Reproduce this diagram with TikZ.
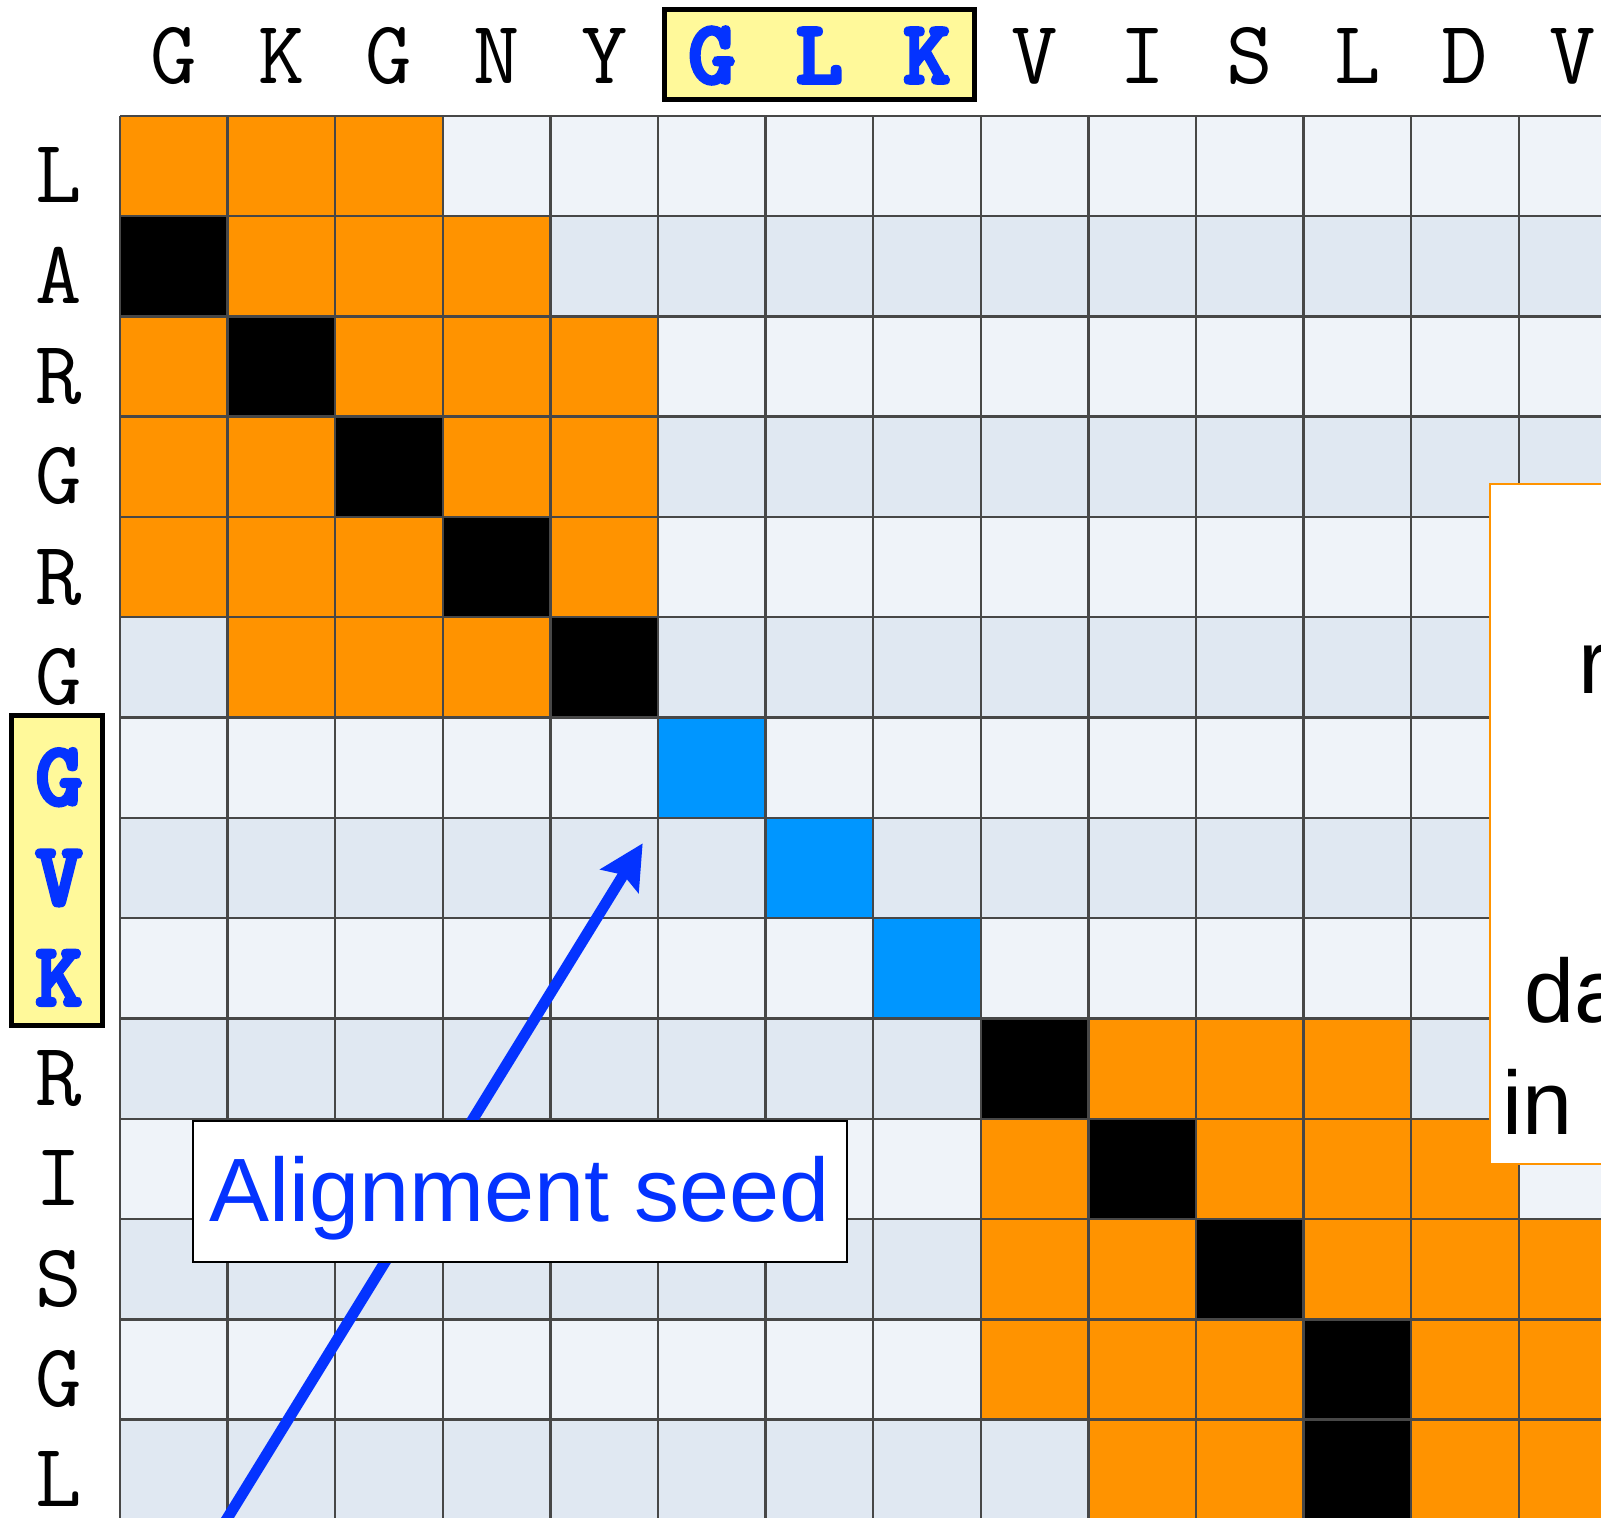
\documentclass[tikz,border=0pt]{standalone}
\usepackage{fontspec}
\setmainfont{Liberation Sans}
\newfontfamily\seqbold{lmmonolt10-bold.otf}[FakeBold=4]
\usetikzlibrary{arrows.meta}
\definecolor{cellorange}{HTML}{FF9300}
\definecolor{cellblue}{HTML}{0096FF}
\definecolor{rowlight}{HTML}{EFF3F9}
\definecolor{rowdark}{HTML}{E0E8F2}
\definecolor{gridgray}{HTML}{474747}
\definecolor{seedyellow}{HTML}{FFF99A}
\definecolor{seedblue}{HTML}{0433FF}

\begin{document}
\begin{tikzpicture}[x=0.5pt,y=-0.5pt,
  res/.style={inner sep=0pt,anchor=base,font=\fontsize{45}{50}\selectfont\ttfamily},
  seedres/.style={res,text=seedblue,font=\fontsize{45}{50}\selectfont\seqbold},
  hilite/.style={fill=seedyellow,draw=black,line width=2.5pt},
  gridline/.style={draw=gridgray,line width=1.2pt},
  seedbox/.style={draw=black,fill=white,line width=1.25pt,inner sep=0pt,minimum width=327pt,minimum height=70.5pt,text=seedblue,font=\fontsize{45}{50}\selectfont,text depth=2.6pt},
  seedarrow/.style={seedblue,line width=5.5pt,-{Stealth[length=22pt,width=22pt,inset=3.5pt]}},
  notebox/.style={fill=white,draw=cellorange,line width=1pt},
  note/.style={inner sep=0pt,anchor=base west,font=\fontsize{45}{50}\selectfont}]
\useasboundingbox (0,0) rectangle (1601,1517);
\clip (0,0) rectangle (1601,1517);
\begin{scope}[shift={(120,115.7)},x=53.8pt,y=-50.15pt]
\foreach \r in {0,2,...,12} \fill[rowlight] (0,\r) rectangle (14,\r+1);
\foreach \r in {1,3,...,13} \fill[rowdark] (0,\r) rectangle (14,\r+1);
\foreach \r/\cols in {0/{0,1,2},1/{1,2,3},2/{0,2,3,4},3/{0,1,3,4},4/{0,1,2,4},5/{1,2,3},
    9/{9,10,11},10/{8,10,11,12},11/{8,9,11,12,13},12/{8,9,10,12,13},13/{9,10,12,13}}
  \foreach \c in \cols \fill[cellorange] (\c,\r) rectangle ++(1,1);
\foreach \c/\r in {0/1,1/2,2/3,3/4,4/5,8/9,9/10,10/11,11/12,11/13} \fill[black] (\c,\r) rectangle ++(1,1);
\foreach \c/\r in {5/6,6/7,7/8} \fill[cellblue] (\c,\r) rectangle ++(1,1);
\foreach \c in {0,...,14} \draw[gridline] (\c,0) -- (\c,14);
\foreach \r in {0,...,14} \draw[gridline] (0,\r) -- (14,\r);

\foreach \i/\l in {0/G,1/K,2/G,3/N,4/Y,8/V,9/I,10/S,11/L,12/D,13/V}
  \node[res] (top\i) at (\i+0.5,-0.326) {\l};
\draw[hilite] (5.056,-1.054) rectangle (7.937,-0.157);
\foreach \i/\l in {5/G,6/L,7/K}
  \node[seedres] (top\i) at (\i+0.5,-0.326) {\l};

\foreach \i/\l in {0/L,1/A,2/R,3/G,4/R,5/G,9/R,10/I,11/S,12/G,13/L}
  \node[res] (side\i) at (-0.567,\i+0.87) {\l};
\draw[hilite] (-1.004,5.975) rectangle (-0.167,9.066);
\foreach \i/\l in {6/G,7/V,8/K}
  \node[seedres] (side\i) at (-0.567,\i+0.87) {\l};
\end{scope}

\coordinate (tail) at (145,1652);
\coordinate (head) at (642.7,843.3);
\draw[seedarrow] (tail) -- (head);
\node[seedbox] (seed) at (520,1191.5) {Alignment seed};

\draw[notebox] (1490,483.5) rectangle (1700,1164);
\node[note] (note1) at (1578,693) {r};
\node[note] (note2) at (1524,1022) {da};
\node[note] (note3) at (1502,1134) {in};
\end{tikzpicture}
\end{document}
